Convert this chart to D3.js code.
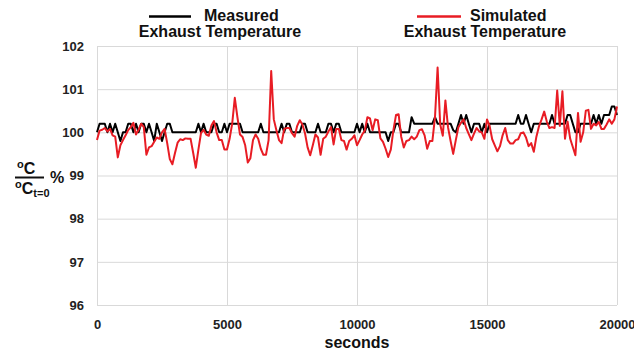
<!DOCTYPE html>
<html>
<head>
<meta charset="UTF-8">
<title>Exhaust Temperature</title>
<script src="https://d3js.org/d3.v7.min.js"></script>
<style>
  body { margin: 0; background: #fff; }
  svg { display: block; font-family: "Liberation Sans", Arial, sans-serif; }
  .grid .tick text { font-size: 13px; font-weight: bold; fill: #222; }
  .grid .tick line { stroke: #d9d9d9; }
  .lbl { font-weight: bold; fill: #111; }
</style>
</head>
<body>
<svg width="634" height="354"></svg>
<script>
// time axis, one reading every 100 s
const seconds = d3.range(0, 20001, 100);

// measured exhaust temperature, % of value at t=0
const measured = [
  100.0, 100.2, 100.2, 100.2, 100.0, 100.2, 100.0, 100.2, 100.0, 99.8,
  100.0, 100.0, 100.2, 100.2, 100.0, 100.2, 100.0, 100.2, 100.2, 100.0,
  100.2, 100.0, 99.8, 100.2, 100.0, 99.8, 100.0, 100.2, 100.2, 100.0,
  100.0, 100.0, 100.0, 100.0, 100.0, 100.0, 100.0, 100.0, 100.0, 100.2,
  100.0, 100.2, 100.0, 100.0, 100.0, 100.2, 100.2, 100.0, 100.0, 100.2,
  100.0, 100.2, 100.2, 100.2, 100.2, 100.2, 100.0, 100.0, 100.0, 100.0,
  100.0, 100.0, 100.0, 100.2, 100.0, 100.0, 100.0, 100.0, 100.0, 100.0,
  100.0, 100.2, 100.0, 100.2, 100.2, 100.0, 100.0, 100.0, 100.0, 100.2,
  100.2, 100.0, 100.0, 100.0, 100.0, 100.2, 100.0, 100.0, 100.0, 100.2,
  100.2, 100.0, 100.2, 100.2, 100.0, 100.0, 100.0, 100.0, 100.0, 100.0,
  100.2, 100.0, 100.2, 100.0, 100.2, 100.0, 100.0, 100.0, 100.0, 100.0,
  100.0, 100.0, 99.8, 100.0, 100.0, 100.2, 100.2, 100.0, 100.0, 100.0,
  100.0, 100.35, 100.2, 100.2, 100.2, 100.2, 100.2, 100.2, 100.2, 100.2,
  100.35, 100.2, 100.2, 100.2, 100.2, 100.2, 100.2, 100.05, 100.0, 100.2,
  100.4, 100.2, 100.4, 100.2, 100.0, 100.2, 100.2, 100.2, 100.0, 100.2,
  100.0, 100.2, 100.2, 100.2, 100.2, 100.2, 100.2, 100.2, 100.2, 100.2,
  100.2, 100.2, 100.4, 100.2, 100.2, 100.4, 100.2, 100.0, 100.2, 100.2,
  100.2, 100.2, 100.2, 100.2, 100.2, 100.4, 100.2, 100.2, 100.2, 100.2,
  100.2, 100.4, 100.4, 100.2, 100.0, 100.0, 100.2, 100.2, 100.2, 100.2,
  100.2, 100.4, 100.2, 100.4, 100.2, 100.4, 100.4, 100.4, 100.6, 100.6,
  100.4
];

// simulated exhaust temperature, % of value at t=0
const simulated = [
  99.82, 100.04, 100.06, 100.1, 100.02, 100.08, 99.93, 99.9, 99.42, 99.7,
  99.82, 99.93, 100.05, 100.12, 100.22, 99.95, 100.06, 100.2, 100.12, 99.48,
  99.65, 99.68, 99.78, 99.88, 99.85, 100.0, 100.08, 99.75, 99.38, 99.26,
  99.52, 99.76, 99.84, 99.82, 99.86, 99.85, 99.85, 99.52, 99.18, 99.6,
  99.98, 100.06, 99.95, 99.92, 100.16, 100.26, 100.0, 99.82, 99.82, 99.6,
  99.6, 99.85, 100.2, 100.8, 100.35, 99.95, 99.89, 99.7, 99.3, 99.4,
  99.82, 99.95, 99.85, 99.62, 99.48, 99.48, 99.82, 101.42, 100.3, 100.05,
  99.82, 99.75, 100.08, 100.1, 100.1, 99.98, 99.9, 100.15, 100.28, 100.18,
  99.98, 99.65, 99.47, 99.7, 99.95, 99.88, 99.48, 99.85, 99.9, 100.02,
  100.12, 99.72, 100.08, 100.08, 99.82, 99.8, 99.6, 99.8, 99.85, 99.93,
  99.7, 99.82, 99.95, 100.04, 100.35, 100.32, 100.05, 100.3, 100.28, 99.86,
  99.78, 99.62, 99.43, 99.6, 100.05, 100.4, 100.42, 99.9, 99.65, 99.8,
  99.82, 99.9, 99.84, 99.9, 100.05, 100.07, 99.93, 99.62, 99.8, 99.8,
  100.35, 101.5, 100.18, 99.92, 100.74, 100.12, 99.8, 99.5, 99.82, 100.12,
  100.22, 100.3, 100.1, 99.96, 99.82, 99.97, 100.1, 100.02, 100.0, 99.85,
  100.3, 100.15, 99.84, 99.7, 99.56, 99.68, 99.93, 100.1, 99.82, 99.74,
  99.74, 99.82, 99.84, 99.98, 100.0, 99.88, 99.68, 99.75, 99.55, 99.9,
  100.14, 100.3, 100.48, 100.25, 100.1, 100.12, 100.1, 100.97, 100.15, 100.95,
  99.85, 100.25, 99.85, 99.66, 99.47, 100.45, 99.78, 100.0, 100.5, 100.52,
  100.08, 100.2, 100.16, 100.24, 100.08, 100.08, 100.18, 100.3, 100.2, 100.3,
  100.6
];

const yTicks = [96, 97, 98, 99, 100, 101, 102];
const xTicks = [0, 5000, 10000, 15000, 20000];
const seriesNames = ["Measured", "Simulated"];
const seriesColors = ["#000000", "#e81c24"];

const svg = d3.select("svg");
const margin = { left: 97, top: 46, right: 17, bottom: 49 };
const width = 634 - margin.left - margin.right;
const height = 354 - margin.top - margin.bottom;

const x = d3.scaleLinear().domain([0, 20000]).range([0, width]);
const y = d3.scaleLinear().domain([96, 102]).range([height, 0]);

const g = svg.append("g").attr("transform", `translate(${margin.left},${margin.top})`);

// gridlines + tick labels
g.append("g").attr("class", "grid")
  .call(d3.axisLeft(y).tickValues(yTicks).tickSize(-width).tickPadding(13).tickFormat(d3.format("d")))
  .call(a => a.select(".domain").remove());

g.append("g").attr("class", "grid")
  .attr("transform", `translate(0,${height})`)
  .call(d3.axisBottom(x).tickValues(xTicks).tickSize(-height).tickPadding(15).tickFormat(d3.format("d")))
  .call(a => a.select(".domain").remove());

// series lines
const line = d3.line()
  .x((d, i) => x(seconds[i]))
  .y(d => y(d));

[measured, simulated].forEach((vals, k) => {
  g.append("path")
    .datum(vals)
    .attr("fill", "none")
    .attr("stroke", seriesColors[k])
    .attr("stroke-width", 2)
    .attr("stroke-linejoin", "round")
    .attr("d", line);
});

// x axis title
svg.append("text").attr("class", "lbl")
  .attr("x", 357).attr("y", 348)
  .attr("text-anchor", "middle")
  .style("font-size", "16px")
  .text("seconds");

// y axis label: °C / °C(t=0) %
const yl = svg.append("g").attr("class", "ylab");
const num = yl.append("text").attr("class", "lbl").attr("x", 17).attr("y", 174).style("font-size", "16px");
num.append("tspan").attr("dy", -6).style("font-size", "11px").text("o");
num.append("tspan").attr("dy", 6).text("C");
yl.append("line").attr("x1", 15).attr("x2", 44).attr("y1", 177.5).attr("y2", 177.5)
  .attr("stroke", "#111").attr("stroke-width", 2);
const den = yl.append("text").attr("class", "lbl").attr("x", 15).attr("y", 194).style("font-size", "16px");
den.append("tspan").attr("dy", -6).style("font-size", "11px").text("o");
den.append("tspan").attr("dy", 6).text("C");
den.append("tspan").attr("dy", 3).style("font-size", "11px").text("t=0");
yl.append("text").attr("class", "lbl").attr("x", 50).attr("y", 183)
  .style("font-size", "16px").text("%");

// legend
const legendPos = [
  { x1: 149, x2: 191, nameX: 204, cx: 220 },
  { x1: 417, x2: 461, nameX: 470, cx: 485 }
];
seriesNames.forEach((name, k) => {
  const p = legendPos[k];
  svg.append("line")
    .attr("x1", p.x1).attr("x2", p.x2).attr("y1", 16.5).attr("y2", 16.5)
    .attr("stroke", seriesColors[k]).attr("stroke-width", 2.5);
  svg.append("text").attr("class", "lbl")
    .attr("x", p.nameX).attr("y", 21).style("font-size", "16px").text(name);
  svg.append("text").attr("class", "lbl")
    .attr("x", p.cx).attr("y", 37).attr("text-anchor", "middle")
    .style("font-size", "16px").text("Exhaust Temperature");
});
</script>
</body>
</html>
